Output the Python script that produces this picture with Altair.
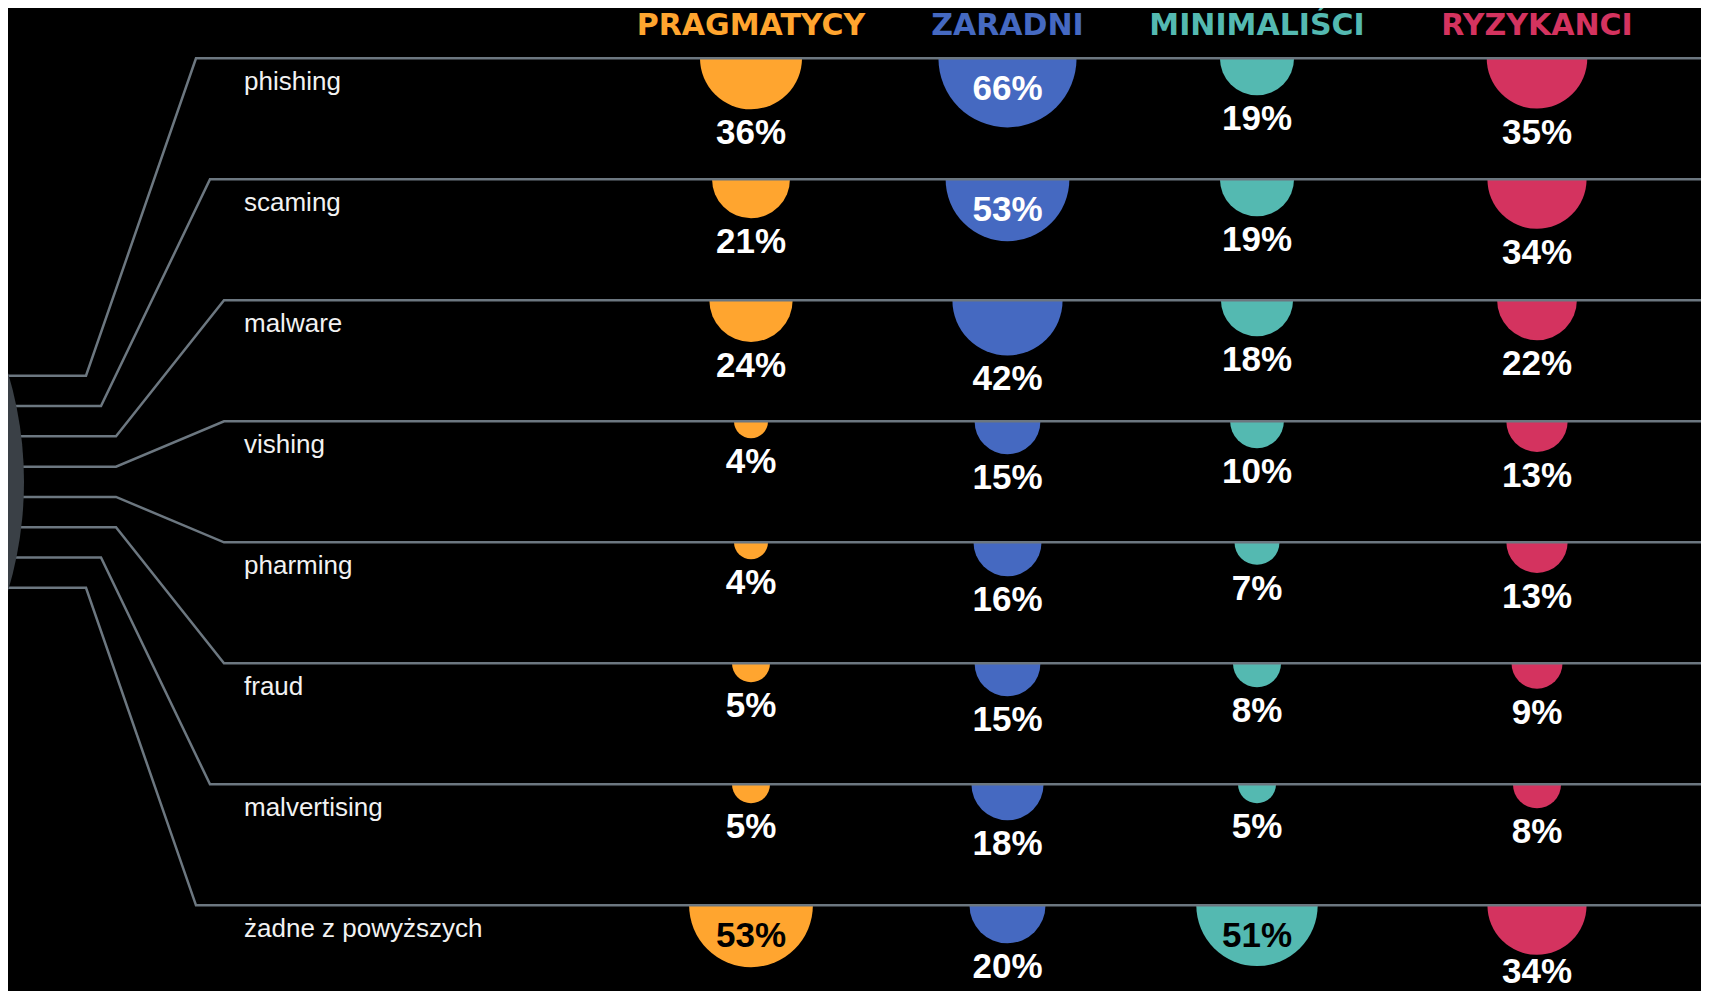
import math
import altair as alt
import pandas as pd

# ---------------- data ----------------
categories = ["phishing", "scaming", "malware", "vishing", "pharming",
              "fraud", "malvertising", "żadne z powyższych"]
groups = ["Pragmatycy", "Zaradni", "Minimaliści", "Ryzykanci"]
headers = ["PRAGMATYCY", "ZARADNI", "MINIMALIŚCI", "RYZYKANCI"]
pragmatycy = [36, 21, 24, 4, 4, 5, 5, 53]
zaradni = [66, 53, 42, 15, 16, 15, 18, 20]
minimalisci = [19, 19, 18, 10, 7, 8, 5, 51]
ryzykanci = [35, 34, 22, 13, 13, 9, 8, 34]

# ---------------- style / layout ----------------
group_colors = ["#FFA52F", "#4569C1", "#54B9B1", "#D4335F"]
LINE = "#6C7780"
CIRCLE = "#3A4046"
M = 8                      # page margin
W, H = 1693, 983
ROW0 = 58.3 - M            # first row line (view px)
STEP = 121.0               # row spacing (px)
COLS = [751 - M, 1007.5 - M, 1257 - M, 1537 - M]
R_MAX = 85                 # radius of a 100% half-disc
LOW = (H - 8 - ROW0) / STEP  # lowest baseline allowed (row units)

series = [pragmatycy, zaradni, minimalisci, ryzykanci]
rows = []
for j, g in enumerate(groups):
    for i, c in enumerate(categories):
        v = series[j][i]
        rows.append({"cat": c, "row": i, "gi": j, "group": g,
                     "value": v, "label": f"{v}%"})
df = pd.DataFrame(rows)

cat_df = pd.DataFrame({"cat": categories, "row": list(range(len(categories)))})
head_df = pd.DataFrame({"gi": list(range(len(groups))), "group": groups,
                        "header": headers})

# connector lines (decorative fan from the circle on the left)
n = len(categories)
mid = (n - 1) / 2
conn = []
for i, c in enumerate(categories):
    d = abs(i - mid)
    left_row = mid + (30.3 / STEP) * (i - mid)
    bx = 86 if d > 3 else (101 if d > 2 else 116)
    tx = 196 if d > 3 else (210 if d > 2 else 224)
    pts = [(-20, left_row), (bx, left_row), (tx, i), (1730, i)]
    for k, (px, yr) in enumerate(pts):
        conn.append({"cat": c, "k": k, "px": px, "yrow": yr})
conn_df = pd.DataFrame(conn)

# ---------------- scales ----------------
yS = alt.Scale(domain=[0, n - 1], range=[ROW0, ROW0 + (n - 1) * STEP],
               zero=False, nice=False)
xPx = alt.Scale(domain=[M, M + W], range=[0, W], zero=False, nice=False)
xG = alt.Scale(domain=[0, 1, 2, 3], range=COLS, zero=False, nice=False)
colS = alt.Scale(domain=groups, range=group_colors)

# ---------------- layers ----------------
arcs = alt.Chart(df).mark_arc(theta=math.pi / 2, theta2=3 * math.pi / 2).encode(
    x=alt.X("gi:Q", scale=xG, axis=None),
    y=alt.Y("row:Q", scale=yS, axis=None),
    radius=alt.Radius("value:Q", stack=None,
                      scale=alt.Scale(type="sqrt", domain=[0, 100],
                                      range=[0, R_MAX], zero=True)),
    color=alt.Color("group:N", scale=colS, legend=None),
)

lines = alt.Chart(conn_df).mark_line(color=LINE, strokeWidth=2.5, clip=True).encode(
    x=alt.X("px:Q", scale=xPx, axis=None),
    y=alt.Y("yrow:Q", scale=yS, axis=None),
    detail="cat:N",
    order="k:O",
)

circle = alt.Chart(pd.DataFrame({"row": [mid]})).mark_arc(
    color=CIRCLE, theta=0, theta2=2 * math.pi, clip=True
).encode(
    x=alt.value(-356 - M),
    y=alt.Y("row:Q", scale=yS, axis=None),
    radius=alt.value(380),
)

cat_labels = alt.Chart(cat_df).mark_text(
    font="Liberation Sans", fontSize=26, color="#F2F2F2", align="left",
    baseline="alphabetic", dy=32
).encode(
    x=alt.value(244 - M),
    y=alt.Y("row:Q", scale=yS, axis=None),
    text="cat:N",
)

val_labels = alt.Chart(df).transform_calculate(
    ylab=(f"min({LOW}, datum.row + (datum.value >= 50 ? 42 : "
          f"{R_MAX / 10} * sqrt(datum.value) + 35) / {STEP})")
).mark_text(
    font="Liberation Sans", fontWeight="bold", fontSize=35, align="center",
    baseline="alphabetic"
).encode(
    x=alt.X("gi:Q", scale=xG, axis=None),
    y=alt.Y("ylab:Q", scale=yS, axis=None),
    text="label:N",
    color=alt.condition("datum.value >= 50 && (datum.gi == 0 || datum.gi == 2)",
                        alt.value("#000000"), alt.value("#FFFFFF")),
)

head_labels = alt.Chart(head_df).mark_text(
    font="DejaVu Sans", fontWeight="bold", fontSize=30, align="center",
    baseline="alphabetic"
).encode(
    x=alt.X("gi:Q", scale=xG, axis=None),
    y=alt.value(35 - M),
    text="header:N",
    color=alt.Color("group:N", scale=colS, legend=None),
)

chart = alt.layer(arcs, lines, circle, cat_labels, val_labels, head_labels).resolve_scale(
    x="independent"
).properties(
    width=W, height=H, background="#000000", padding=0,
    autosize=alt.AutoSizeParams(type="none"),
).configure_view(stroke=None)

chart.save("out.html", embed_options={"renderer": "svg", "actions": False})
